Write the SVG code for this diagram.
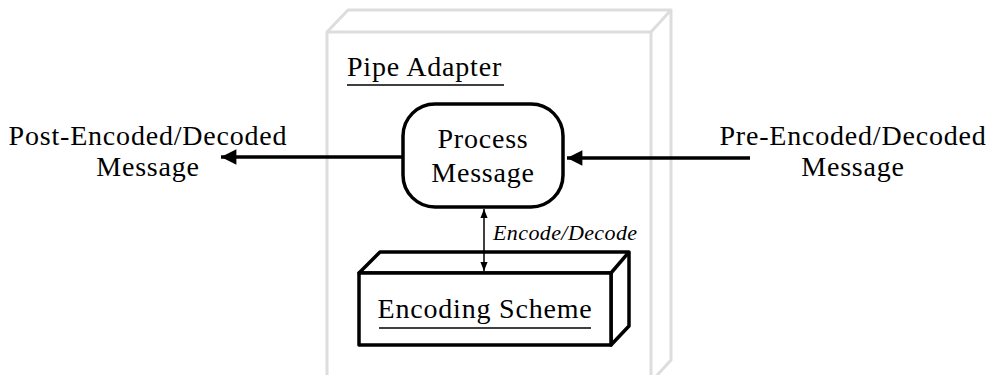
<svg xmlns="http://www.w3.org/2000/svg" width="990" height="375" viewBox="0 0 990 375">
  <style>
    .txt { font-family: "Liberation Serif", "Times New Roman", serif; font-size: 28px; letter-spacing: 0.8px; fill: #000; }
    .it { font-family: "Liberation Serif", "Times New Roman", serif; font-size: 22px; font-style: italic; letter-spacing: 0.4px; fill: #000; }
    .shell { fill: none; stroke: #dddddd; stroke-width: 3; stroke-linejoin: round; }
    .edge { fill: #fff; stroke: #000; stroke-width: 3.5; stroke-linejoin: round; }
    .ul { stroke: #000; stroke-width: 1.5; }
    .wire { stroke: #000; stroke-width: 3.5; fill: none; }
    .thin { stroke: #000; stroke-width: 1.5; fill: none; }
  </style>
  <defs>
    <marker id="head" viewBox="0 0 10 10" refX="10" refY="5" markerWidth="5" markerHeight="4.4" markerUnits="strokeWidth" orient="auto">
      <path d="M0,0 L10,5 L0,10 z" fill="#000"/>
    </marker>
    <marker id="small" viewBox="0 0 10 10" refX="10" refY="5" markerWidth="6" markerHeight="6" markerUnits="strokeWidth" orient="auto-start-reverse">
      <path d="M0,1 L10,5 L0,9 z" fill="#000"/>
    </marker>
  </defs>

  <!-- Pipe Adapter component (3D box) -->
  <g id="pipe-adapter">
    <rect class="shell" x="327" y="32" width="324" height="350"/>
    <path class="shell" d="M327,32 L348,10 L671,10 L651,32 M671,10 L671,360 L651,382"/>
    <text class="txt" x="347" y="76">Pipe Adapter</text>
    <line class="ul" x1="347" y1="85" x2="504" y2="85"/>
  </g>

  <!-- Process Message -->
  <g id="process-message">
    <rect class="edge" x="403" y="104" width="160" height="103" rx="32" ry="32"/>
    <text class="txt" x="483" y="148" text-anchor="middle">Process</text>
    <text class="txt" x="483" y="182" text-anchor="middle">Message</text>
  </g>

  <!-- Encoding Scheme (3D box) -->
  <g id="encoding-scheme">
    <path class="edge" d="M359,273 L380,252 L629,252 L629,326 L611,345 L611,273 Z"/>
    <rect class="edge" x="359" y="273" width="252" height="72"/>
    <line class="edge" x1="611" y1="273" x2="629" y2="252"/>
    <text class="txt" x="485" y="318" text-anchor="middle">Encoding Scheme</text>
    <line class="ul" x1="379" y1="328" x2="591" y2="328"/>
  </g>

  <!-- External message labels -->
  <g id="post-message">
    <text class="txt" x="148" y="145" text-anchor="middle">Post-Encoded/Decoded</text>
    <text class="txt" x="148" y="176" text-anchor="middle">Message</text>
  </g>
  <g id="pre-message">
    <text class="txt" x="853" y="145" text-anchor="middle">Pre-Encoded/Decoded</text>
    <text class="txt" x="853" y="176" text-anchor="middle">Message</text>
  </g>

  <!-- Connectors -->
  <g id="connectors">
    <line class="wire" x1="403" y1="157" x2="221" y2="157" marker-end="url(#head)"/>
    <line class="wire" x1="750" y1="158" x2="567" y2="158" marker-end="url(#head)"/>
    <line class="thin" x1="484" y1="209" x2="484" y2="271" marker-start="url(#small)" marker-end="url(#small)"/>
    <text class="it" x="493" y="240">Encode/Decode</text>
  </g>
</svg>
